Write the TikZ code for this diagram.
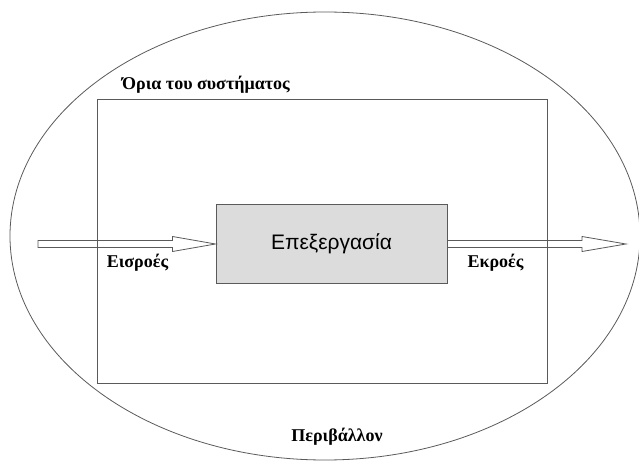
\documentclass[tikz,border=0pt]{standalone}
\usepackage{fontspec}
\setmainfont{Liberation Serif}
\newfontfamily\procfont{Liberation Sans}
\usetikzlibrary{calc,shapes.geometric}
\definecolor{linegray}{HTML}{5A5A5A}
\definecolor{boxfill}{HTML}{DCDCDC}
\tikzset{
  envline/.style={draw=linegray, line width=0.8pt},
  sysline/.style={draw=linegray, line width=1pt},
  procbox/.style={draw=linegray, line width=1pt, fill=boxfill, minimum width=231pt, minimum height=78pt, inner sep=0pt, font=\procfont\fontsize{21}{25}\selectfont},
  lbl/.style={font=\bfseries\fontsize{18}{21}\selectfont, inner sep=0pt},
  flowarrow/.style={draw=linegray, line width=0.8pt, fill=white, line join=miter}
}
\begin{document}
\begin{tikzpicture}[x=1pt,y=-1pt]
\useasboundingbox (0,0) rectangle (639,462);
% environment
\node[envline, ellipse, minimum width=630pt, minimum height=448pt, inner sep=0pt] (env) at (325,236) {};
% process
\node[procbox] (proc) at (331.5,244) {Επεξεργασία};
% flows
\coordinate (inStart) at (38,244);
\coordinate (outEnd) at (626,244);
\path[flowarrow] (inStart |- 0,240.5) -- ($(proc.west)+(-43,-3.5)$) -- ($(proc.west)+(-43,-7.5)$) -- (proc.west)
  -- ($(proc.west)+(-43,7.5)$) -- ($(proc.west)+(-43,3.5)$) -- (inStart |- 0,247.5) -- cycle;
\path[flowarrow] (proc.east |- 0,240.5) -- ($(outEnd)+(-44,-3.5)$) -- ($(outEnd)+(-44,-7.5)$) -- (outEnd)
  -- ($(outEnd)+(-44,7.5)$) -- ($(outEnd)+(-44,3.5)$) -- (proc.east |- 0,247.5) -- cycle;
% system boundary (drawn over the flows)
\node[sysline, rectangle, minimum width=450pt, minimum height=283pt, inner sep=0pt] (sys) at (322,241.5) {};
% labels
\node[lbl] (inLbl) at (137.5,263) {Εισροές};
\node[lbl] (outLbl) at (495.5,263) {Εκροές};
\node[lbl, anchor=west] (sysLbl) at (122,85) {Όρια του συστήματος};
\node[lbl] (envLbl) at (337,437) {Περιβάλλον};
\end{tikzpicture}
\end{document}
